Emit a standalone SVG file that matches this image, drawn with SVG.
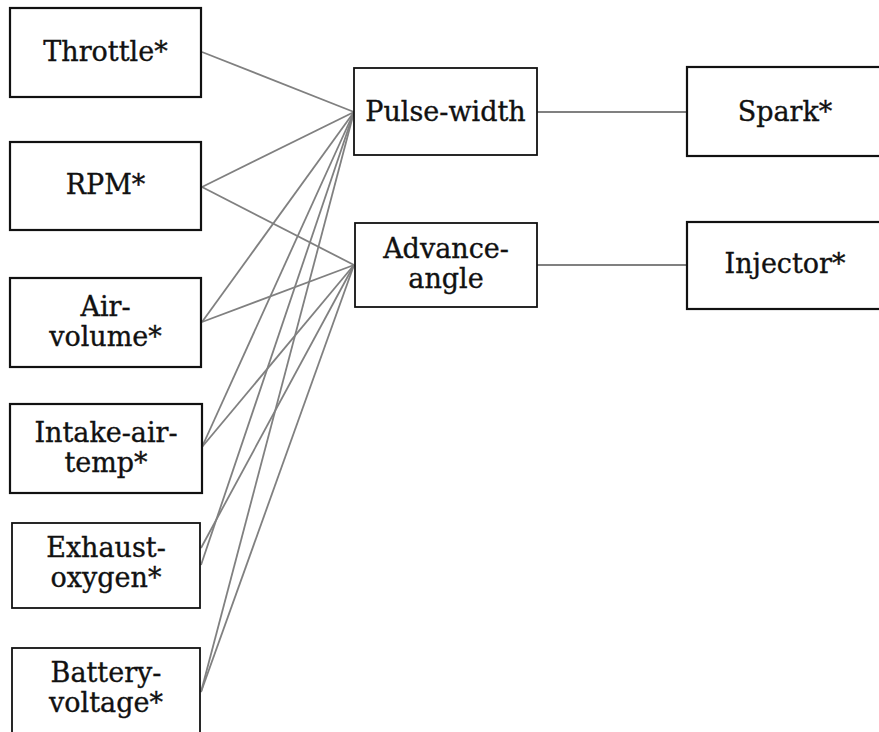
<svg xmlns="http://www.w3.org/2000/svg" width="879" height="732" viewBox="0 0 879 732">
<style>
.box{fill:#fff;stroke:#111;stroke-width:2.2}
.thin{stroke-width:1.8}
text{font-family:"DejaVu Serif","Liberation Serif",serif;font-size:27px;fill:#111;stroke:#111;stroke-width:0.35;text-anchor:middle}
.edges line{stroke:#808080;stroke-width:1.8}
</style>
<rect width="879" height="732" fill="#fff"/>
<g class="edges">
<line x1="202" y1="52" x2="354" y2="112"/>
<line x1="202" y1="187" x2="354" y2="112"/>
<line x1="202" y1="187" x2="354" y2="265"/>
<line x1="202" y1="322" x2="354" y2="112"/>
<line x1="202" y1="322" x2="354" y2="265"/>
<line x1="202" y1="447" x2="354" y2="112"/>
<line x1="202" y1="447" x2="354" y2="265"/>
<line x1="201" y1="548" x2="354" y2="265"/>
<line x1="201" y1="565" x2="354" y2="112"/>
<line x1="201" y1="692" x2="354" y2="112"/>
<line x1="201" y1="692" x2="354" y2="265"/>
<line x1="537" y1="112" x2="687" y2="112"/>
<line x1="537" y1="265" x2="687" y2="265"/>
</g>
<g id="throttle"><rect class="box" x="10" y="8" width="191" height="89"/><text x="105.5" y="61">Throttle*</text></g>
<g id="rpm"><rect class="box" x="10" y="142" width="191" height="88"/><text x="105.5" y="194">RPM*</text></g>
<g id="air-volume"><rect class="box" x="10" y="278" width="191" height="89"/><text x="105.5" y="316">Air-</text><text x="105.5" y="346">volume*</text></g>
<g id="intake-air-temp"><rect class="box" x="10" y="404" width="192" height="89"/><text x="106" y="442">Intake-air-</text><text x="106" y="472">temp*</text></g>
<g id="exhaust-oxygen"><rect class="box thin" x="12" y="523" width="188" height="85"/><text x="106" y="557">Exhaust-</text><text x="106" y="587">oxygen*</text></g>
<g id="battery-voltage"><rect class="box thin" x="12" y="648" width="188" height="100"/><text x="106" y="682">Battery-</text><text x="106" y="712">voltage*</text></g>
<g id="pulse-width"><rect class="box thin" x="354" y="68" width="183" height="87"/><text x="445.5" y="121">Pulse-width</text></g>
<g id="advance-angle"><rect class="box thin" x="355" y="223" width="182" height="84"/><text x="446" y="258">Advance-</text><text x="446" y="288">angle</text></g>
<g id="spark"><rect class="box" x="687" y="67" width="200" height="89"/><text x="785" y="121">Spark*</text></g>
<g id="injector"><rect class="box" x="687" y="222" width="200" height="87"/><text x="785" y="273">Injector*</text></g>
</svg>
